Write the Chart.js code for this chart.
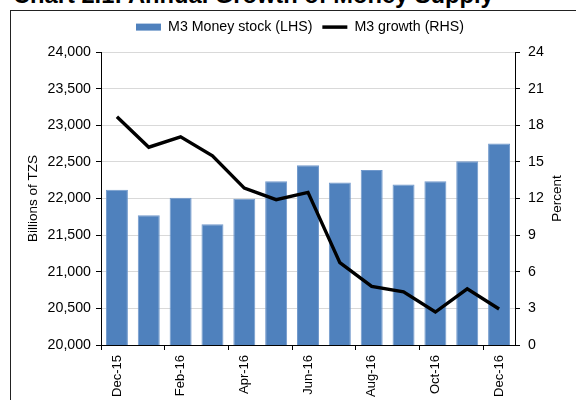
<!DOCTYPE html>
<html>
<head>
<meta charset="utf-8">
<script src="https://cdn.jsdelivr.net/npm/chart.js@4/dist/chart.umd.min.js"></script>
<style>
  html, body { margin: 0; padding: 0; background: #fff; }
  #wrap { position: relative; width: 576px; height: 400px; overflow: hidden; font-family: "Liberation Sans", Arial, sans-serif; }
  #title { position: absolute; left: 13px; top: -16px; font-size: 23.7px; font-weight: bold; line-height: 1; white-space: nowrap; color: #000; }
  #frame { position: absolute; left: 10px; top: 10px; width: 700px; height: 500px; border: 1px solid #222; }
  #c { position: absolute; left: 0; top: 0; }
</style>
</head>
<body>
<div id="wrap">
  <div id="title">Chart 2.1: Annual Growth of Money Supply</div>
  <div id="frame"></div>
  <canvas id="c" width="576" height="400"></canvas>
</div>
<script>
const categories = ['Dec-15','Jan-16','Feb-16','Mar-16','Apr-16','May-16','Jun-16','Jul-16','Aug-16','Sep-16','Oct-16','Nov-16','Dec-16'];
const m3Stock = [22120, 21770, 22010, 21650, 21995, 22235, 22455, 22220, 22390, 22190, 22235, 22510, 22750];
const m3Growth = [18.7, 16.2, 17.05, 15.5, 12.85, 11.9, 12.5, 6.75, 4.8, 4.35, 2.7, 4.6, 2.95];
const seriesNames = ['M3 Money stock (LHS)', 'M3 growth (RHS)'];
const leftAxisTitle = 'Billions of TZS';
const rightAxisTitle = 'Percent';

const FONT = '"Liberation Sans", Arial, sans-serif';
const BLUE = '#4F81BD';

const rightTitlePlugin = {
  id: 'rightTitle',
  afterDraw(chart) {
    const s = chart.scales.y1;
    const ctx = chart.ctx;
    ctx.save();
    ctx.font = '13.5px ' + FONT;
    ctx.fillStyle = '#000';
    ctx.textAlign = 'center';
    ctx.textBaseline = 'middle';
    ctx.translate(557, (s.top + s.bottom) / 2);
    ctx.rotate(-Math.PI / 2);
    ctx.fillText(rightAxisTitle, 0, 0);
    ctx.restore();
  }
};

const legendHeightPlugin = {
  id: 'legendHeight',
  beforeInit(chart) {
    const orig = chart.legend.fit;
    chart.legend.fit = function () {
      orig.bind(chart.legend)();
      this.height = 42;
    };
  },
  afterLayout(chart) {
    chart.legend.left += 12;
    chart.legend.right += 12;
  }
};

new Chart(document.getElementById('c'), {
  type: 'bar',
  data: {
    labels: categories,
    datasets: [
      {
        type: 'bar',
        label: seriesNames[0],
        data: m3Stock,
        backgroundColor: BLUE,
        borderColor: '#7199CC',
        borderWidth: 1,
        barPercentage: 0.69,
        categoryPercentage: 1.0,
        yAxisID: 'y',
        order: 2
      },
      {
        type: 'line',
        label: seriesNames[1],
        data: m3Growth,
        borderColor: '#000',
        borderWidth: 3.4,
        pointRadius: 0,
        tension: 0,
        fill: false,
        yAxisID: 'y1',
        order: 1
      }
    ]
  },
  options: {
    responsive: false,
    animation: false,
    layout: { padding: { top: 10, left: 0, right: 0, bottom: 0 } },
    plugins: {
      tooltip: { enabled: false },
      legend: {
        position: 'top',
        labels: {
          font: { family: FONT, size: 14.2 },
          color: '#000',
          padding: 10,
          usePointStyle: true,
          pointStyleWidth: 25,
          boxHeight: 7,
          generateLabels() {
            return [
              { text: seriesNames[0], fillStyle: BLUE, strokeStyle: BLUE, lineWidth: 0, pointStyle: 'rect', datasetIndex: 0, fontColor: '#000' },
              { text: seriesNames[1], fillStyle: '#000', strokeStyle: '#000', lineWidth: 3.5, pointStyle: 'line', datasetIndex: 1, fontColor: '#000' }
            ];
          }
        }
      }
    },
    scales: {
      x: {
        offset: true,
        grid: {
          offset: true,
          drawOnChartArea: false,
          tickLength: 5,
          color: (c) => (c.index % 2 === 0 ? '#000' : 'rgba(0,0,0,0)'),
          tickColor: (c) => (c.index % 2 === 0 ? '#000' : 'rgba(0,0,0,0)')
        },
        border: { color: '#000', width: 1 },
        ticks: {
          autoSkip: false,
          minRotation: 90,
          maxRotation: 90,
          padding: 5,
          color: '#000',
          font: { family: FONT, size: 13 },
          callback: (v, i) => (i % 2 === 0 ? categories[i] : '')
        },
        afterFit(s) { s.height = 55; }
      },
      y: {
        position: 'left',
        min: 20000,
        max: 24000,
        grid: {
          color: '#D9D9D9',
          tickColor: '#000',
          tickLength: 5,
          lineWidth: 1
        },
        border: { color: '#000', width: 1 },
        ticks: {
          stepSize: 500,
          padding: 5,
          color: '#000',
          font: { family: FONT, size: 14.2 },
          callback: (v) => Number(v).toLocaleString('en-US')
        },
        title: {
          display: true,
          text: leftAxisTitle,
          color: '#000',
          font: { family: FONT, size: 13.5 },
          padding: { top: 25, bottom: 0 }
        },
        afterFit(s) { s.width = 101; }
      },
      y1: {
        position: 'right',
        min: 0,
        max: 24,
        grid: {
          drawOnChartArea: false,
          tickColor: '#000',
          tickLength: 5
        },
        border: { color: '#000', width: 1 },
        ticks: {
          stepSize: 3,
          padding: 8,
          color: '#000',
          font: { family: FONT, size: 14.2 }
        },
        afterFit(s) { s.width = 61; }
      }
    }
  },
  plugins: [legendHeightPlugin, rightTitlePlugin]
});
</script>
</body>
</html>
